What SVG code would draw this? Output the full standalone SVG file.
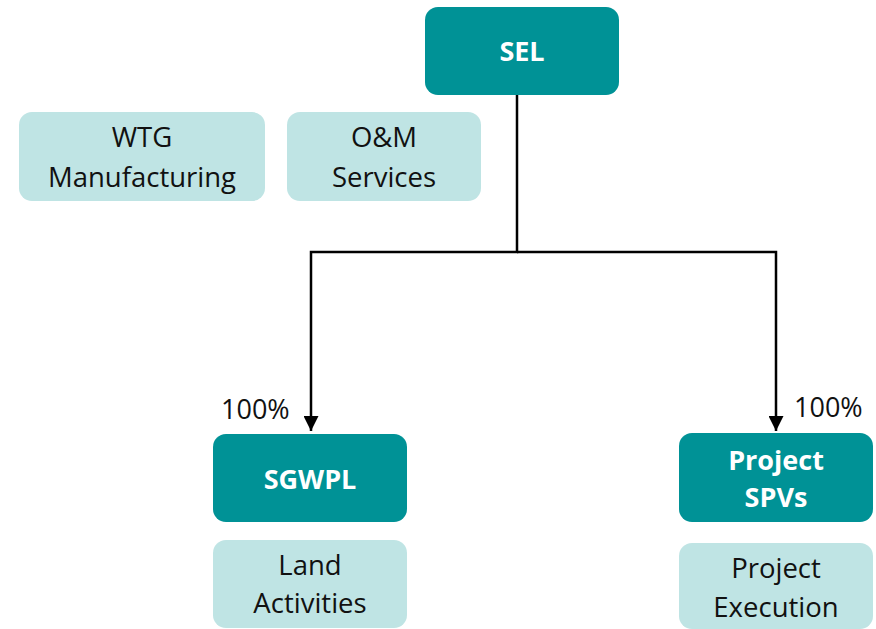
<svg xmlns="http://www.w3.org/2000/svg" width="876" height="629" viewBox="0 0 876 629">
<style>
.dark{fill:#009296;}
.light{fill:#bfe4e4;}
.t{font-family:"Open Sans","Liberation Sans",sans-serif;font-size:27.5px;fill:#111;text-anchor:middle;}
.b{font-family:"Open Sans","Liberation Sans",sans-serif;font-size:27px;font-weight:bold;fill:#fff;text-anchor:middle;}
.lbl{font-family:"Open Sans","Liberation Sans",sans-serif;font-size:27px;fill:#111;}
.c{fill:none;stroke:#000;stroke-width:2.5;}
</style>
<defs>
<marker id="ah" viewBox="0 0 10 10" refX="10" refY="5" markerWidth="6" markerHeight="6" markerUnits="strokeWidth" orient="auto">
<path d="M0,0 L10,5 L0,10 z" fill="#000"/>
</marker>
</defs>
<rect width="876" height="629" fill="#fff"/>
<g id="connectors">
<path class="c" d="M517,95 V252 H311 V431" marker-end="url(#ah)"/>
<path class="c" d="M517,252 H776 V431" marker-end="url(#ah)"/>
<text class="lbl" x="221" y="419">100%</text>
<text class="lbl" x="794" y="417">100%</text>
</g>
<g id="SEL">
<rect class="dark" x="425" y="7" width="194" height="88" rx="13"/>
<text class="b" x="522" y="61">SEL</text>
</g>
<g id="WTG">
<rect class="light" x="19" y="112" width="246" height="89" rx="13"/>
<text class="t" x="142" y="147">WTG</text>
<text class="t" x="142" y="187">Manufacturing</text>
</g>
<g id="OM">
<rect class="light" x="287" y="112" width="194" height="89" rx="13"/>
<text class="t" x="384" y="147">O&amp;M</text>
<text class="t" x="384" y="187">Services</text>
</g>
<g id="SGWPL">
<rect class="dark" x="213" y="434" width="194" height="88" rx="13"/>
<text class="b" x="310" y="489">SGWPL</text>
</g>
<g id="Land">
<rect class="light" x="213" y="540" width="194" height="88" rx="13"/>
<text class="t" x="310" y="575">Land</text>
<text class="t" x="310" y="613">Activities</text>
</g>
<g id="SPV">
<rect class="dark" x="679" y="433" width="194" height="89" rx="13"/>
<text class="b" x="776" y="470">Project</text>
<text class="b" x="776" y="507">SPVs</text>
</g>
<g id="Exec">
<rect class="light" x="679" y="543" width="194" height="86" rx="13"/>
<text class="t" x="776" y="578">Project</text>
<text class="t" x="776" y="617">Execution</text>
</g>
</svg>
